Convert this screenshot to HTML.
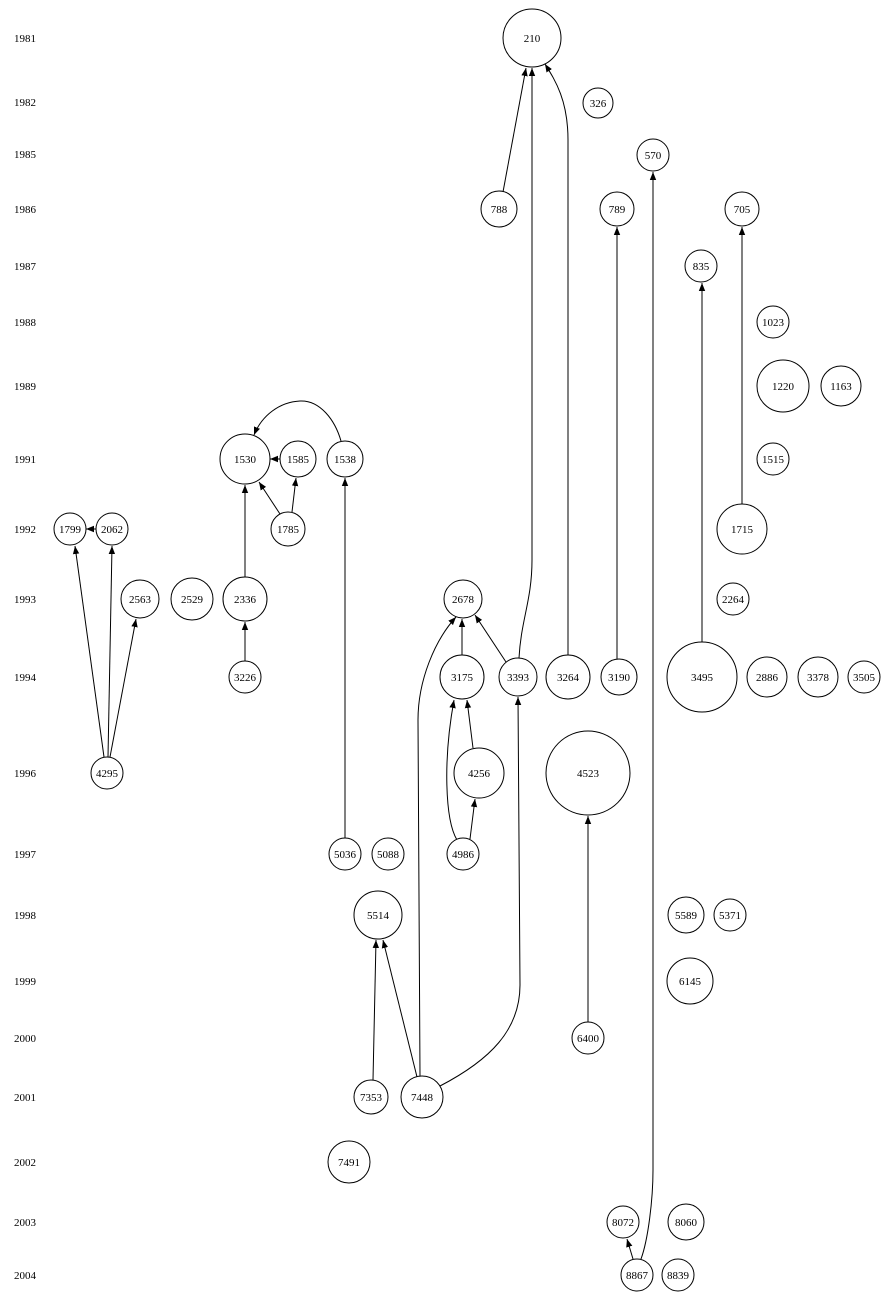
<!DOCTYPE html>
<html><head><meta charset="utf-8"><style>html,body{margin:0;padding:0;background:#fff}svg{display:block}text{font-family:"Liberation Serif",serif;font-size:11px;fill:#000}</style></head><body>
<svg width="887" height="1300" viewBox="0 0 887 1300" xmlns="http://www.w3.org/2000/svg">
<defs><marker id="a" viewBox="0 0 10 8" refX="10" refY="4" markerWidth="8" markerHeight="7" markerUnits="userSpaceOnUse" orient="auto"><path d="M0,0L10,4L0,8z" fill="#000"/></marker></defs>
<g text-anchor="middle">
<text x="25" y="42">1981</text><text x="25" y="106">1982</text><text x="25" y="158">1985</text><text x="25" y="213">1986</text><text x="25" y="270">1987</text><text x="25" y="326">1988</text><text x="25" y="390">1989</text><text x="25" y="463">1991</text><text x="25" y="533">1992</text><text x="25" y="603">1993</text><text x="25" y="681">1994</text><text x="25" y="777">1996</text><text x="25" y="858">1997</text><text x="25" y="919">1998</text><text x="25" y="985">1999</text><text x="25" y="1042">2000</text><text x="25" y="1101">2001</text><text x="25" y="1166">2002</text><text x="25" y="1226">2003</text><text x="25" y="1279">2004</text>
</g>
<g fill="none" stroke="#000" stroke-width="1" marker-end="url(#a)">
<path d="M503,192L526,68"/>
<path d="M519,658C521,620 532,600 532,560L532,68"/>
<path d="M568,655L568,140C568,100 555,80 545,64"/>
<path d="M641,1259C648,1240 653,1200 653,1170L653,172"/>
<path d="M617,659L617,227"/>
<path d="M702,642L702,283"/>
<path d="M742,504L742,227"/>
<path d="M341,441C335,420 320,400 300,401C280,402 262,415 254,435"/>
<path d="M280,459L270,459"/>
<path d="M280,514L259,482"/>
<path d="M292,512L296,478"/>
<path d="M345,838L345,478"/>
<path d="M245,577L245,485"/>
<path d="M245,661L245,622"/>
<path d="M96,529L86,529"/>
<path d="M104,757L75,546"/>
<path d="M108,757L112,546"/>
<path d="M110,757L136,619"/>
<path d="M462,655L462,619"/>
<path d="M506,662L475,615"/>
<path d="M420,1076L418,720C418,680 435,640 456,617"/>
<path d="M457,840C445,820 443,760 454,700"/>
<path d="M470,839L475,799"/>
<path d="M473,748L467,700"/>
<path d="M588,1022L588,816"/>
<path d="M373,1080L376,940"/>
<path d="M417,1077L383,940"/>
<path d="M440,1086C490,1060 520,1030 520,985L518,697"/>
<path d="M633,1259L627,1239"/>
</g>
<g fill="#fff" stroke="#000" stroke-width="1">
<circle cx="532" cy="38" r="29"/><circle cx="598" cy="103" r="15"/><circle cx="653" cy="155" r="16"/><circle cx="499" cy="209" r="18"/><circle cx="617" cy="209" r="17"/><circle cx="742" cy="209" r="17"/><circle cx="701" cy="266" r="16"/><circle cx="773" cy="322" r="16"/><circle cx="783" cy="386" r="26"/><circle cx="841" cy="386" r="20"/><circle cx="245" cy="459" r="25"/><circle cx="298" cy="459" r="18"/><circle cx="345" cy="459" r="18"/><circle cx="773" cy="459" r="16"/><circle cx="70" cy="529" r="16"/><circle cx="112" cy="529" r="16"/><circle cx="288" cy="529" r="17"/><circle cx="742" cy="529" r="25"/><circle cx="140" cy="599" r="19"/><circle cx="192" cy="599" r="21"/><circle cx="245" cy="599" r="22"/><circle cx="463" cy="599" r="19"/><circle cx="733" cy="599" r="16"/><circle cx="245" cy="677" r="16"/><circle cx="462" cy="677" r="22"/><circle cx="518" cy="677" r="19"/><circle cx="568" cy="677" r="22"/><circle cx="619" cy="677" r="18"/><circle cx="702" cy="677" r="35"/><circle cx="767" cy="677" r="20"/><circle cx="818" cy="677" r="20"/><circle cx="864" cy="677" r="16"/><circle cx="107" cy="773" r="16"/><circle cx="479" cy="773" r="25"/><circle cx="588" cy="773" r="42"/><circle cx="345" cy="854" r="16"/><circle cx="388" cy="854" r="16"/><circle cx="463" cy="854" r="16"/><circle cx="378" cy="915" r="24"/><circle cx="686" cy="915" r="18"/><circle cx="730" cy="915" r="16"/><circle cx="690" cy="981" r="23"/><circle cx="588" cy="1038" r="16"/><circle cx="371" cy="1097" r="17"/><circle cx="422" cy="1097" r="21"/><circle cx="349" cy="1162" r="21"/><circle cx="623" cy="1222" r="16"/><circle cx="686" cy="1222" r="18"/><circle cx="637" cy="1275" r="16"/><circle cx="678" cy="1275" r="16"/>
</g>
<g text-anchor="middle">
<text x="532" y="42">210</text><text x="598" y="107">326</text><text x="653" y="159">570</text><text x="499" y="213">788</text><text x="617" y="213">789</text><text x="742" y="213">705</text><text x="701" y="270">835</text><text x="773" y="326">1023</text><text x="783" y="390">1220</text><text x="841" y="390">1163</text><text x="245" y="463">1530</text><text x="298" y="463">1585</text><text x="345" y="463">1538</text><text x="773" y="463">1515</text><text x="70" y="533">1799</text><text x="112" y="533">2062</text><text x="288" y="533">1785</text><text x="742" y="533">1715</text><text x="140" y="603">2563</text><text x="192" y="603">2529</text><text x="245" y="603">2336</text><text x="463" y="603">2678</text><text x="733" y="603">2264</text><text x="245" y="681">3226</text><text x="462" y="681">3175</text><text x="518" y="681">3393</text><text x="568" y="681">3264</text><text x="619" y="681">3190</text><text x="702" y="681">3495</text><text x="767" y="681">2886</text><text x="818" y="681">3378</text><text x="864" y="681">3505</text><text x="107" y="777">4295</text><text x="479" y="777">4256</text><text x="588" y="777">4523</text><text x="345" y="858">5036</text><text x="388" y="858">5088</text><text x="463" y="858">4986</text><text x="378" y="919">5514</text><text x="686" y="919">5589</text><text x="730" y="919">5371</text><text x="690" y="985">6145</text><text x="588" y="1042">6400</text><text x="371" y="1101">7353</text><text x="422" y="1101">7448</text><text x="349" y="1166">7491</text><text x="623" y="1226">8072</text><text x="686" y="1226">8060</text><text x="637" y="1279">8867</text><text x="678" y="1279">8839</text>
</g>
</svg>
</body></html>
